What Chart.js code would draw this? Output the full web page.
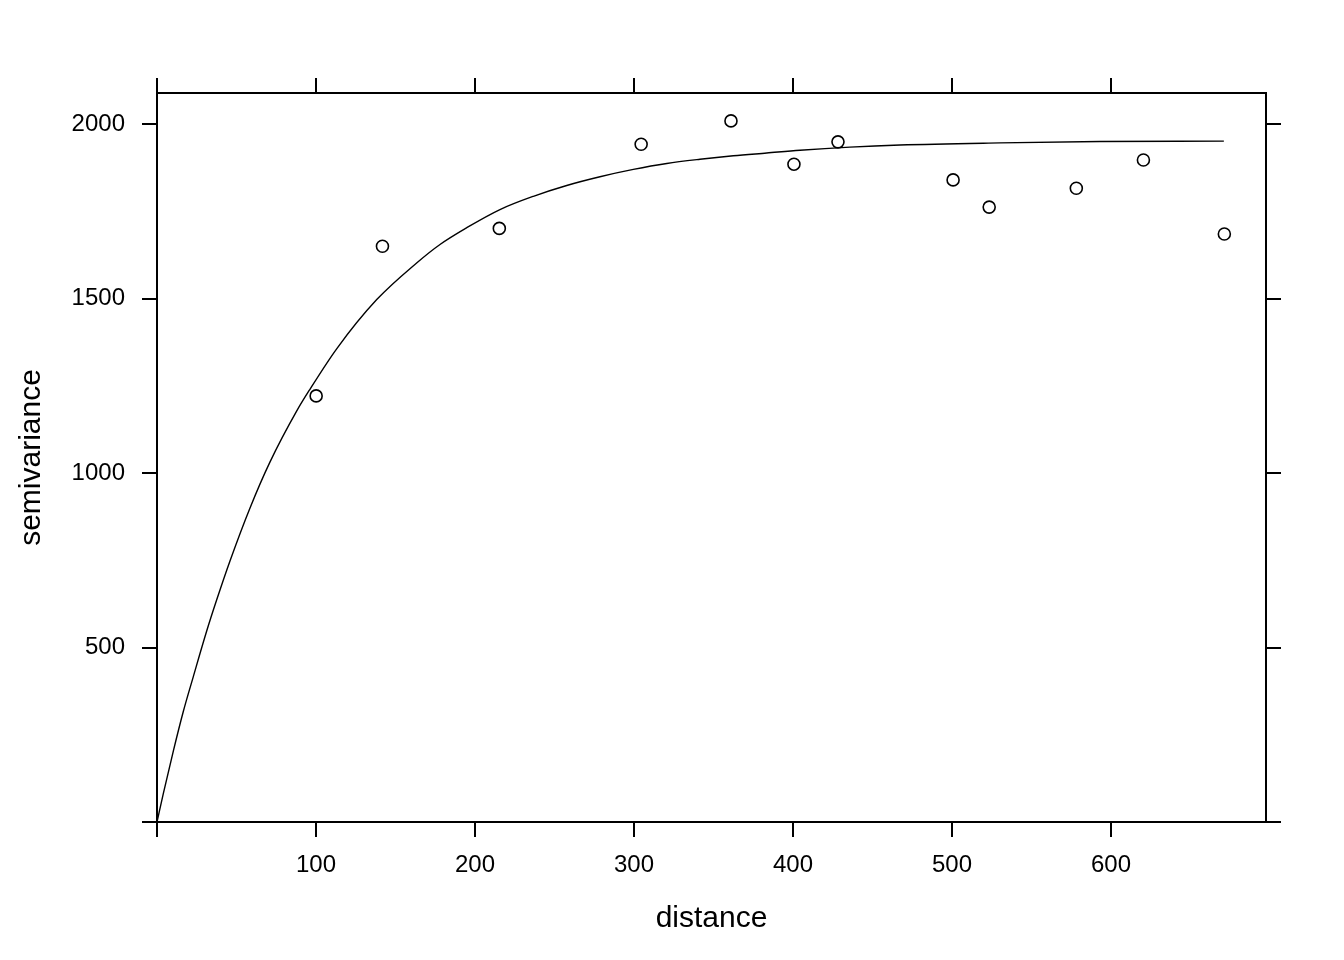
<!DOCTYPE html>
<html>
<head>
<meta charset="utf-8">
<script src="https://cdn.jsdelivr.net/npm/chart.js@4"></script>
<style>
  html, body { margin: 0; padding: 0; background: #fff; }
  #wrap { width: 1344px; height: 960px; }
</style>
</head>
<body>
<div id="wrap"><canvas id="vgm"></canvas></div>
<script>
// === sample variogram (points) ===
const distPts = [100.1, 141.8, 215.3, 304.5, 361, 400.6, 428.3, 500.7, 523.4, 578.2, 620.4, 671.3];
const gammaPts = [1221, 1650, 1701, 1942, 2009, 1885, 1949, 1840, 1762, 1816, 1897, 1685];

// === fitted model line ===
const distFit = [0, 4, 10.3, 16.5, 22.8, 31.3, 37.5, 45.9, 58.5, 71.1, 87.9, 96.2, 113, 138.2, 163.3, 178,
  194.8, 215.7, 236.7, 257.7, 278.6, 299.6, 320.6, 341.5, 362.5, 383.5, 404.4, 435.8, 467.3, 530.2, 593, 671];
const gammaFit = [0, 82, 204, 316, 416, 548, 636, 748, 900, 1032, 1178, 1240, 1356, 1497, 1602, 1655,
  1703, 1755, 1793, 1824, 1849, 1870, 1887, 1899, 1909, 1917, 1925, 1934, 1940, 1946, 1950, 1951];

const X_MAX = 697.5, Y_MAX = 2089;
const xTicks = [0, 100, 200, 300, 400, 500, 600];
const yTicks = [0, 500, 1000, 1500, 2000];

const toXY = (xs, ys) => xs.map((x, i) => ({ x, y: ys[i] }));

Chart.defaults.font.family = "'Liberation Sans', Arial, sans-serif";
Chart.defaults.color = "#000";

const tickGrid = { drawOnChartArea: false, drawTicks: true, tickLength: 15, color: "#000", lineWidth: 2 };
const frame = { display: true, color: "#000", width: 2 };
const noLabel = (v) => (v === 0 ? "" : v);

function axis(pos, vals, max, extra) {
  return Object.assign({
    type: "linear", position: pos, min: 0, max: max,
    afterBuildTicks: (s) => { s.ticks = vals.map(v => ({ value: v })); },
    grid: tickGrid, border: frame
  }, extra);
}

new Chart(document.getElementById("vgm"), {
  type: "scatter",
  data: {
    datasets: [
      {
        label: "model", type: "line", data: toXY(distFit, gammaFit),
        borderColor: "#000", borderWidth: 1.4, pointRadius: 0, fill: false,
        cubicInterpolationMode: "monotone", xAxisID: "x", yAxisID: "y"
      },
      {
        label: "sample", data: toXY(distPts, gammaPts),
        pointStyle: "circle", pointRadius: 6, pointBorderWidth: 1.6,
        borderColor: "#000", backgroundColor: "rgba(0,0,0,0)", xAxisID: "x", yAxisID: "y"
      }
    ]
  },
  options: {
    responsive: true, maintainAspectRatio: false, animation: false,
    layout: { padding: 0 },
    plugins: { legend: { display: false }, tooltip: { enabled: false } },
    scales: {
      x: axis("bottom", xTicks, X_MAX, {
        ticks: { font: { size: 24 }, padding: 14, callback: noLabel, maxRotation: 0, autoSkip: false },
        title: { display: true, text: "distance", font: { size: 30 }, padding: { top: 0, bottom: 23 } },
        afterFit: (s) => { s.height = 138; }
      }),
      x2: axis("top", xTicks, X_MAX, {
        ticks: { display: false },
        afterFit: (s) => { s.height = 93; }
      }),
      y: axis("left", yTicks, Y_MAX, {
        ticks: { font: { size: 24 }, padding: 17, callback: noLabel, autoSkip: false },
        title: { display: true, text: "semivariance", font: { size: 30 }, padding: { top: 14, bottom: 0 } },
        afterFit: (s) => { s.width = 157; }
      }),
      y2: axis("right", yTicks, Y_MAX, {
        ticks: { display: false },
        afterFit: (s) => { s.width = 78; }
      })
    }
  }
});
</script>
</body>
</html>
